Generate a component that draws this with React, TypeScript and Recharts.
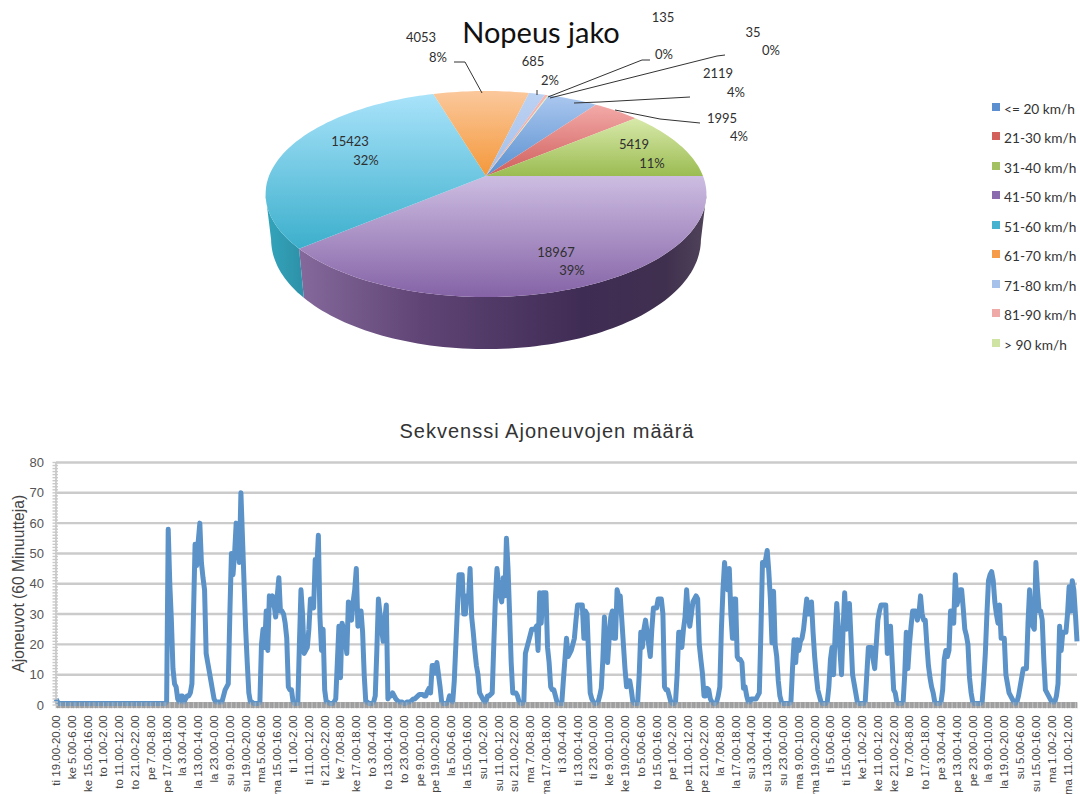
import React from 'react';
import { PieChart, Pie, Legend, LineChart, Line, XAxis, YAxis, CartesianGrid } from 'recharts';

// ---------- data ----------
const speedBands = ['<= 20 km/h', '21-30 km/h', '31-40 km/h', '41-50 km/h', '51-60 km/h', '61-70 km/h', '71-80 km/h', '81-90 km/h', '> 90 km/h'];
const speedCounts = [2119, 1995, 5419, 18967, 15423, 4053, 685, 135, 35];
const speedPercents = [4, 4, 11, 39, 32, 8, 2, 0, 0];

const tickLabels = [
  'ti 19.00-20.00', 'ke 5.00-6.00', 'ke 15.00-16.00', 'to 1.00-2.00', 'to 11.00-12.00', 'to 21.00-22.00', 'pe 7.00-8.00', 'pe 17.00-18.00',
  'la 3.00-4.00', 'la 13.00-14.00', 'la 23.00-0.00', 'su 9.00-10.00', 'su 19.00-20.00', 'ma 5.00-6.00', 'ma 15.00-16.00', 'ti 1.00-2.00',
  'ti 11.00-12.00', 'ti 21.00-22.00', 'ke 7.00-8.00', 'ke 17.00-18.00', 'to 3.00-4.00', 'to 13.00-14.00', 'to 23.00-0.00', 'pe 9.00-10.00',
  'pe 19.00-20.00', 'la 5.00-6.00', 'la 15.00-16.00', 'su 1.00-2.00', 'su 11.00-12.00', 'su 21.00-22.00', 'ma 7.00-8.00', 'ma 17.00-18.00',
  'ti 3.00-4.00', 'ti 13.00-14.00', 'ti 23.00-0.00', 'ke 9.00-10.00', 'ke 19.00-20.00', 'to 5.00-6.00', 'to 15.00-16.00', 'pe 1.00-2.00',
  'pe 11.00-12.00', 'pe 21.00-22.00', 'la 7.00-8.00', 'la 17.00-18.00', 'su 3.00-4.00', 'su 13.00-14.00', 'su 23.00-0.00', 'ma 9.00-10.00',
  'ma 19.00-20.00', 'ti 5.00-6.00', 'ti 15.00-16.00', 'ke 1.00-2.00', 'ke 11.00-12.00', 'ke 21.00-22.00', 'to 7.00-8.00', 'to 17.00-18.00',
  'pe 3.00-4.00', 'pe 13.00-14.00', 'pe 23.00-0.00', 'la 9.00-10.00', 'la 19.00-20.00', 'su 5.00-6.00', 'su 15.00-16.00', 'ma 1.00-2.00',
  'ma 11.00-12.00',
];

const hourlyCounts = [
  2, 1, .5, .5, .5, .5, .5, .5, .5, .5,
  .5, .5, .5, .5, .5, .5, .5, .5, .5, .5,
  .5, .5, .5, .5, .5, .5, .5, .5, .5, .5,
  .5, .5, .5, .5, .5, .5, .5, .5, .5, .5,
  .5, .5, .5, .5, .5, .5, .5, .5, .5, .5,
  .5, .5, .5, .5, .5, .5, .5, .5, .5, .5,
  .5, .5, .5, .5, .5, .5, .5, .5, .5, .5,
  1, 58, 40, 28, 12, 7, 6, 2, 1, 3,
  3, 1, 2, 3, 3, 4, 7, 30, 53, 46,
  54, 60, 47, 42, 38, 17, 14, 11, 8, 5,
  2, 1, 1, 1, 1, 1, 3, 5, 6, 7,
  30, 50, 43, 50, 60, 58, 47, 70, 55, 40,
  25, 14, 4, 1, 1, .5, .5, .5, .5, 1,
  20, 25, 19, 31, 18, 36, 33, 36, 33, 29,
  36, 42, 31, 31, 30, 27, 22, 6, 5, 5,
  1, .5, .5, .5, 20, 38, 30, 17, 18, 19,
  25, 35, 35, 32, 48, 45, 56, 29, 18, 25,
  5, 1, 1, .5, .5, .5, 1, 2, 14, 26,
  9, 27, 25, 22, 17, 34, 30, 28, 34, 38,
  45, 26, 28, 31, 24, 10, 1, 1, .5, .5,
  .5, 1, 3, 18, 35, 30, 25, 21, 28, 33,
  2, 3, 3, 4, 3, 2, 1.5, 1, 1, 1,
  .5, .5, 1, 1, 1, 1.5, 2, 2, 2.5, 3,
  3.5, 3.5, 3.5, 3, 3, 4.5, 5.5, 4, 13, 13,
  10.5, 14, 10, 6, 1, .5, .5, .5, 1, 3,
  2, 1, 8, 20, 32, 43, 43, 43, 30, 30,
  36, 35, 45, 29, 24, 18, 13, 10, 4, 3,
  2, 1, 1, 3, 3, 3.5, 4, 20, 35, 45,
  40, 36, 34, 42, 36, 55, 45, 30, 14, 4,
  4, 4, 3, 1, .5, .5, 1, 17, 19, 21,
  23, 25, 25, 25, 26, 18, 37, 27, 37, 37,
  37, 19, 14, 6, 5, 5, 3, 1, .5, .5,
  .5, 8, 15, 22, 16, 17, 18, 20, 22, 28,
  33, 33, 33, 33, 22, 31, 30, 16, 4, 2,
  1, .5, .5, 1, 3, 5.5, 15, 29, 20, 14,
  22, 29, 31, 22, 22, 38, 36, 36, 28, 20,
  12, 6, 7, 8, 5, 1, .5, .5, .5, 10,
  24, 19, 25, 28, 24, 20, 16, 25, 32, 32,
  32, 35, 35, 35, 30, 6, 5, 5, 3, 1,
  .5, .5, 1, 10, 24, 24, 19, 25, 29, 38,
  30, 26, 30, 34, 35, 36, 35, 20, 15, 10.5,
  3, 3, 5.5, 5, 2, 1, .5, .5, 1, 3,
  6, 25, 38, 47, 40, 38, 45, 30, 22, 35,
  35, 16, 15, 15, 14, 5.5, 6, 3, 1, 1,
  2, 2, 2, 2, 3, 4, 24, 47, 46, 48,
  51, 44, 35, 20.5, 37.5, 20, 16, 8, 3, 1,
  .5, .5, .5, .5, .5, 1, 12, 21.5, 14, 21.5,
  18, 21, 22, 25, 30, 35, 30, 32, 34, 24,
  16, 10, 5, 3, 1, .5, .5, .5, 1, 6,
  15, 19, 10, 24, 33.5, 25, 18, 10, 25, 37,
  25, 28, 33.5, 22, 10, 7, 4, 1, .5, .5,
  .5, .5, 1, 10, 19, 19, 19, 15, 12, 20,
  28, 31, 33, 33, 33, 33, 17, 24, 26, 15,
  5, 4, 1, .5, .5, .5, 1, 10, 24, 12,
  20, 26, 31, 31, 31, 28, 30, 36, 30, 28,
  28, 20, 13, 9, 6, 4, 1, .5, .5, .5,
  1, 5, 15, 18, 16, 18, 31, 31, 27, 43,
  33, 35, 38, 38, 32, 25, 23, 20, 9, 4,
  1, .5, .5, .5, .5, .5, 1, 8, 17, 30,
  41, 43, 44, 41, 34, 30, 27, 33, 22, 22,
  22, 10, 7, 4, 3, 2, 1, .5, 1, 3,
  6, 9, 12, 12, 12, 27, 38, 30, 26, 25,
  47, 38, 31, 31, 28, 15, 5, 4, 3, 2,
  1, 1, 1, 3, 7, 26, 18, 24, 24, 24,
  30, 39, 31, 41, 38, 30, 21,
];

const yLabelTicks = [0, 10, 20, 30, 40, 50, 60, 70, 80];
const yMinorTicks = Array.from({ length: 81 }, (_, i) => i);

// ---------- styles / layout ----------
const sliceTop = ['#aac7ef', '#f3aaa8', '#d8e9aa', '#cdbde2', '#a9e3fa', '#fbc89c', '#bcd2f3', '#f4b6b4', '#dcebb6'];
const sliceBottom = ['#5a90cf', '#cf5f5c', '#9bbc52', '#8563a6', '#3cafcc', '#f4983a', '#a5bfe8', '#eda4a2', '#cfe3a0'];
const swatch = ['#5c8fd0', '#d4605c', '#a3c160', '#8a6cae', '#45b3cf', '#f69c48', '#a6c1ea', '#efa9a7', '#cfe4a3'];
const wallStops: Record<number, [number, string][]> = {
  3: [[0, '#85699c'], [0.3, '#5f4475'], [0.7, '#3f2c54'], [0.9, '#40304f'], [1, '#4f4359']],
  4: [[0, '#33a5bc'], [1, '#2e93aa']],
};
const labelSpots = [
  { a: [718, 75], b: [736, 94], line: [[574, 103], [600, 102], [690, 97]] },
  { a: [722, 120], b: [739, 138], line: [[615, 110], [660, 119], [700, 123]] },
  { a: [634, 146], b: [652, 165], line: [] },
  { a: [556, 254], b: [572, 272], line: [] },
  { a: [350, 143], b: [366, 162], line: [] },
  { a: [421, 39], b: [438, 59], line: [[454, 62], [465, 62], [482, 93]] },
  { a: [533, 63], b: [550, 82], line: [[537, 90], [537, 95]] },
  { a: [663, 19], b: [664, 56], line: [[650, 60], [642, 60], [548, 97]] },
  { a: [753, 34], b: [771, 52], line: [[725, 55], [717, 56], [550, 98]] },
];

const APEX_X = 486, APEX_Y = 176, RX = 217, RY = 99.9, PERSP = 0.175;
const WALL = 44, WALL_X = 0.975;
const START = 70.3;
const AXIS_Y = 305.3;
const UI = 'Lato, "Noto Sans", sans-serif';
const ARIAL = '"Liberation Sans", Arial, sans-serif';

const rim = (deg: number): [number, number] => {
  const r = (deg * Math.PI) / 180;
  const u = Math.cos(r), v = Math.sin(r), w = 1 + PERSP * v;
  return [APEX_X + (RX * u) / w, APEX_Y - (RY * v) / w];
};
const below = (deg: number): [number, number] => {
  const [x, y] = rim(deg);
  const v = Math.sin((deg * Math.PI) / 180);
  return [APEX_X + (x - APEX_X) * WALL_X, y + WALL - 8 * v];
};
const pathOf = (pts: [number, number][]) => pts.map((p, i) => `${i ? 'L' : 'M'}${p[0].toFixed(1)} ${p[1].toFixed(1)}`).join(' ') + ' Z';

const renderSlice = (props: any, idx?: number) => {
  const i: number = props.index ?? idx ?? 0;
  const s: number = props.startAngle, e: number = props.endAngle;
  const n = Math.max(2, Math.ceil(Math.abs(s - e) / 1.5));
  const angles = Array.from({ length: n + 1 }, (_, k) => s + ((e - s) * k) / n);
  const rimPts = angles.map(rim);
  const ys = [APEX_Y, ...rimPts.map((p) => p[1])];
  const topId = `top-${i}`, wallId = `wall-${i}`;
  const wallAngles = angles.filter((a) => Math.sin((a * Math.PI) / 180) < -PERSP);
  const wall = wallAngles.length > 1 ? pathOf([...wallAngles.map(rim), ...[...wallAngles].reverse().map(below)]) : null;
  const wallXs = wallAngles.map((a) => rim(a)[0]);
  return (
    <g>
      <defs>
        <linearGradient id={topId} gradientUnits="userSpaceOnUse" x1={0} x2={0} y1={Math.min(...ys)} y2={Math.max(...ys)}>
          <stop offset="0" stopColor={sliceTop[i]} />
          <stop offset="1" stopColor={sliceBottom[i]} />
        </linearGradient>
        {wall && (
          <linearGradient id={wallId} gradientUnits="userSpaceOnUse" y1={0} y2={0} x1={Math.min(...wallXs)} x2={Math.max(...wallXs)}>
            {(wallStops[i] || []).map(([o, c]) => <stop key={o} offset={o} stopColor={c} />)}
          </linearGradient>
        )}
      </defs>
      {wall && <path d={wall} fill={`url(#${wallId})`} />}
      <path d={pathOf([[APEX_X, APEX_Y], ...rimPts])} fill={`url(#${topId})`} />
    </g>
  );
};

const renderLabel = (props: any) => {
  const i: number = props.index;
  const spot = labelSpots[i];
  return (
    <g key={i} fontFamily={UI} fontSize={13} fill="#2f2f2f" textAnchor="middle">
      <text x={spot.a[0]} y={spot.a[1]} dominantBaseline="middle">{speedCounts[i]}</text>
      <text x={spot.b[0]} y={spot.b[1]} dominantBaseline="middle">{speedPercents[i]}%</text>
      {spot.line.length > 0 && <polyline points={spot.line.map((p) => p.join(',')).join(' ')} fill="none" stroke="#333" strokeWidth={1} />}
    </g>
  );
};

const renderLegend = () => (
  <div style={{ fontFamily: UI, fontSize: 13.7, color: '#333' }}>
    {speedBands.map((b, i) => (
      <div key={b} style={{ height: 29.5, lineHeight: '20px', whiteSpace: 'nowrap', display: 'flex', alignItems: 'center' }}>
        <span style={{ display: 'inline-block', width: 8, height: 8, marginRight: 4, marginTop: -4, background: swatch[i] }} />
        {b}
      </div>
    ))}
  </div>
);

const XTick = (props: any) => {
  const { x, index } = props;
  const label = index % 10 === 0 ? tickLabels[index / 10] : null;
  return (
    <g>
      <line x1={x} x2={x} y1={AXIS_Y - 3} y2={AXIS_Y + 3} stroke={index % 3 === 0 ? '#c8c8c8' : '#999999'} strokeWidth={0.8} />
      {label && (
        <text x={0} y={0} transform={`translate(${x + 4},${AXIS_Y + 10}) rotate(-90)`} textAnchor="end" fontFamily={ARIAL} fontSize={11.5} fill="#444">
          {label}
        </text>
      )}
    </g>
  );
};

const YTick = (props: any) => {
  const { y, payload } = props;
  const isLabel = payload.value % 10 === 0;
  return (
    <g>
      <line x1={52.5} x2={58} y1={y} y2={y} stroke="#c9c9c9" strokeWidth={1.4} />
      {isLabel && (
        <text x={44} y={y + 4.5} textAnchor="end" fontFamily={ARIAL} fontSize={13} fill="#555">{payload.value}</text>
      )}
    </g>
  );
};

const pieRows = speedBands.map((band, i) => ({ band, count: speedCounts[i] }));
const lineRows = hourlyCounts.map((count, hour) => ({ hour, count }));

export default function App() {
  return (
    <div style={{ position: 'absolute', left: 0, top: 0, width: 1080, height: 794, overflow: 'hidden', background: '#fff' }}>
      <div style={{ position: 'absolute', left: 0, top: 14, width: 1082, textAlign: 'center', fontFamily: UI, fontSize: 29, lineHeight: '36px', color: '#111' }}>
        Nopeus jako
      </div>
      <div style={{ position: 'absolute', left: 0, top: 0 }}>
        <PieChart width={1080} height={400} margin={{ top: 0, right: 0, bottom: 0, left: 0 }}>
          <Pie
            data={pieRows}
            dataKey="count"
            nameKey="band"
            cx={APEX_X}
            cy={APEX_Y}
            outerRadius={100}
            startAngle={START}
            endAngle={START - 360}
            isAnimationActive={false}
            stroke="none"
            shape={renderSlice}
            label={renderLabel}
            labelLine={false}
          />
          <Legend content={renderLegend} wrapperStyle={{ position: 'absolute', left: 992, top: 94, width: 88, height: 270, bottom: 'auto' }} />
        </PieChart>
      </div>

      <div style={{ position: 'absolute', left: 0, top: 420, width: 1094, textAlign: 'center', fontFamily: ARIAL, fontSize: 20, letterSpacing: 1, lineHeight: '22px', color: '#333' }}>
        Sekvenssi Ajoneuvojen määrä
      </div>
      <div style={{ position: 'absolute', left: 0, top: 400 }}>
        <LineChart width={1080} height={394} data={lineRows} margin={{ top: 62.5, right: 3, bottom: 0, left: 0 }}>
          <CartesianGrid vertical={false} horizontalValues={yLabelTicks.slice(1)} stroke="#cbcbcb" strokeWidth={2.4} />
          <XAxis
            dataKey="hour"
            type="category"
            interval={0}
            height={89}
            tick={<XTick />}
            tickLine={false}
            axisLine={{ stroke: '#a6a6a6', strokeWidth: 6 }}
            zIndex={100}
          />
          <YAxis
            domain={[0, 80]}
            ticks={yMinorTicks}
            interval={0}
            width={56}
            tick={<YTick />}
            tickLine={false}
            axisLine={{ stroke: '#cfcfcf', strokeWidth: 2 }}
            zIndex={100}
            label={{ value: 'Ajoneuvot (60 Minuutteja)', angle: -90, position: 'insideLeft', offset: 18, style: { fontFamily: ARIAL, fontSize: 15.6, fill: '#444', textAnchor: 'middle' } }}
          />
          <Line dataKey="count" type="linear" stroke="#5b93c9" strokeWidth={5} dot={false} isAnimationActive={false} strokeLinejoin="round" zIndex={600} />
        </LineChart>
      </div>
    </div>
  );
}
